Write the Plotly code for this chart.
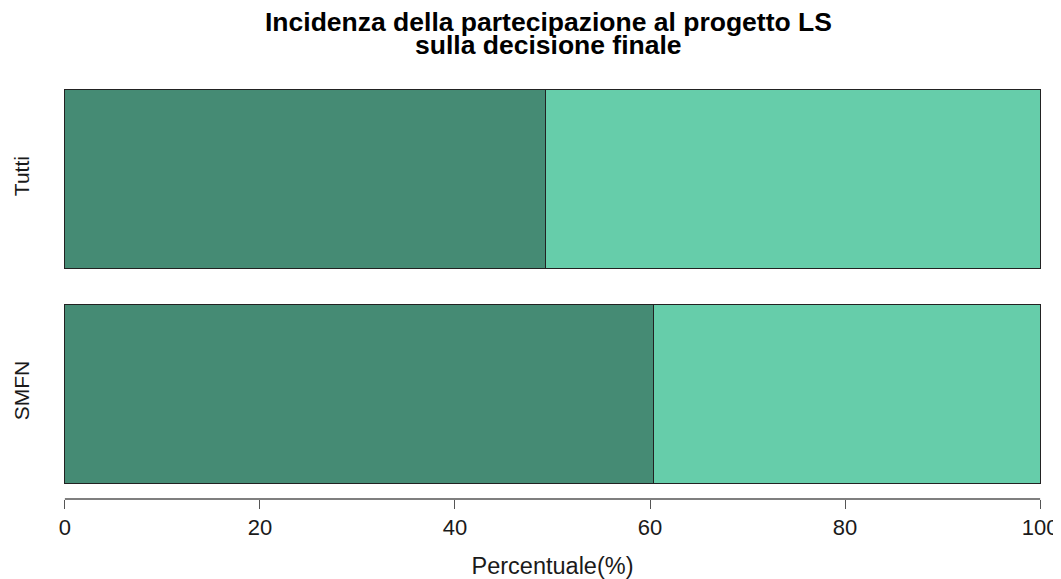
import plotly.graph_objects as go

categories = ["SMFN", "Tutti"]
dark_values = [60.4, 49.3]
light_values = [39.6, 50.7]
x_ticks = [0, 20, 40, 60, 80, 100]
title_lines = ["Incidenza della partecipazione al progetto LS", "sulla decisione finale"]
x_title = "Percentuale(%)"

FONT = "Liberation Sans, Arial, Helvetica, sans-serif"

fig = go.Figure()
fig.add_trace(go.Bar(y=categories, x=dark_values, orientation="h",
                     marker=dict(color="#458B74", line=dict(color="#222222", width=1)),
                     showlegend=False, hoverinfo="x+y"))
fig.add_trace(go.Bar(y=categories, x=light_values, orientation="h",
                     marker=dict(color="#66CDAA", line=dict(color="#222222", width=1)),
                     showlegend=False, hoverinfo="x+y"))

fig.add_shape(type="line", xref="x", yref="paper", x0=0, x1=100, y0=0, y1=0,
              line=dict(color="#555555", width=1.3))

# title (two lines, tight line spacing as in the reference)
fig.add_annotation(text="<b>" + title_lines[0] + "</b>", xref="paper", yref="paper",
                   x=0.4964, y=1.1223, xanchor="center", yanchor="middle", showarrow=False,
                   font=dict(family=FONT, size=26.5, color="#000000"))
fig.add_annotation(text="<b>" + title_lines[1] + "</b>", xref="paper", yref="paper",
                   x=0.4964, y=1.0682, xanchor="center", yanchor="middle", showarrow=False,
                   font=dict(family=FONT, size=26.5, color="#000000"))

fig.update_layout(
    width=1053, height=571,
    barmode="stack", bargap=1/6,
    plot_bgcolor="white", paper_bgcolor="white",
    margin=dict(l=52, r=16, t=66, b=80),
    font=dict(family=FONT, size=22, color="#1a1a1a"),
    xaxis=dict(range=[-0.5, 100.5], tickvals=x_ticks, ticks="outside", ticklen=9,
               tickcolor="#555555", tickwidth=1.3, showline=False, showgrid=False,
               zeroline=False, tickfont=dict(size=22), automargin=False,
               title=dict(text=x_title, standoff=18, font=dict(size=23.5))),
    yaxis=dict(range=[-0.491, 1.491], tickangle=-90, ticks="outside", ticklen=22,
               tickcolor="rgba(0,0,0,0)", showline=False, showgrid=False,
               zeroline=False, tickfont=dict(size=21), automargin=False),
)

fig.write_html("out.html")
